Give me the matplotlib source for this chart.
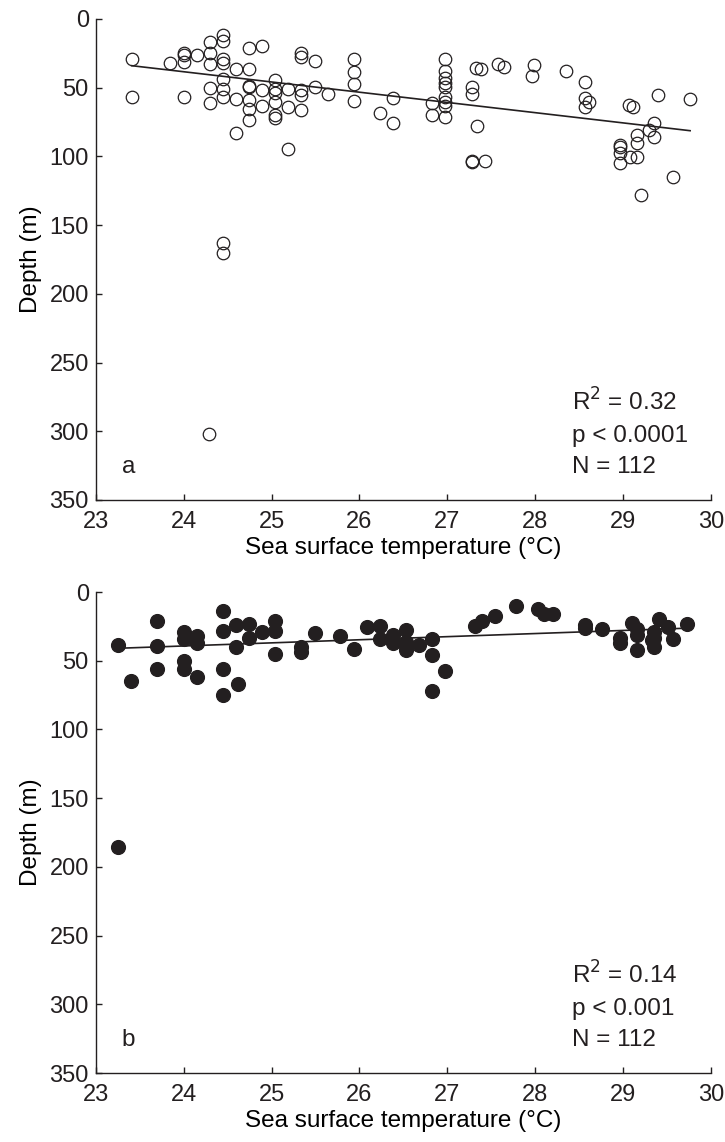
import matplotlib
matplotlib.use("Agg")
import matplotlib.pyplot as plt
import numpy as np

INK = '#231f20'

plt.rcParams.update({
    'font.family': ['Liberation Sans', 'DejaVu Sans'],
    'font.size': 17,
    'axes.linewidth': 1.0,
    'axes.edgecolor': INK,
    'text.color': INK,
    'xtick.color': INK,
    'ytick.color': INK,
    'xtick.direction': 'in',
    'ytick.direction': 'in',
})

# panel a: open circles
sst_a = [23.41, 23.41, 23.85, 24.0, 24.0, 24.0, 24.0, 24.15, 24.30, 24.30,
         24.30, 24.30, 24.30, 24.45, 24.45, 24.45, 24.45, 24.45, 24.45, 24.45,
         24.59, 24.59, 24.59, 24.74, 24.74, 24.74, 24.74, 24.74, 24.74, 24.74,
         24.89, 24.89, 24.89, 25.04, 25.04, 25.04, 25.04, 25.04, 25.04, 25.19,
         25.19, 25.19, 25.34, 25.34, 25.34, 25.34, 25.34, 25.49, 25.49, 25.64,
         25.94, 25.94, 25.94, 25.94, 26.23, 26.38, 26.38, 26.83, 26.83, 26.97,
         26.97, 26.97, 26.97, 26.97, 26.97, 26.97, 26.97, 26.97, 27.28, 27.28,
         27.28, 27.28, 27.43, 27.34, 27.32, 27.38, 27.57, 27.64, 27.99, 27.96,
         28.35, 28.56, 28.56, 28.61, 28.56, 29.07, 29.11, 29.39, 29.76, 29.35,
         29.29, 29.35, 29.16, 29.16, 28.96, 28.96, 28.96, 28.96, 29.08, 29.16,
         29.56, 29.20, 24.45, 24.45, 24.29]
depth_a = [29.3, 56.8, 31.8, 24.5, 26.5, 31.1, 56.8, 26.2, 16.7, 25.0,
           33.0, 50.5, 60.9, 11.9, 15.8, 29.3, 31.8, 43.9, 51.2, 56.8,
           36.2, 58.5, 83.2, 20.9, 36.6, 48.6, 49.7, 59.0, 65.3, 73.5,
           19.7, 51.7, 63.3, 44.4, 51.2, 53.6, 60.2, 69.9, 72.3, 51.2,
           63.8, 94.9, 25.0, 27.4, 51.7, 55.3, 66.2, 30.3, 49.7, 54.6,
           28.9, 38.4, 47.3, 59.9, 68.2, 57.7, 75.5, 60.9, 69.9, 28.9,
           37.6, 43.2, 46.4, 49.7, 56.5, 60.2, 63.3, 71.1, 49.7, 54.6,
           103.1, 103.9, 103.6, 77.9, 35.9, 36.6, 32.8, 34.7, 33.7, 41.5,
           37.9, 46.1, 57.3, 60.6, 63.8, 62.6, 63.8, 55.1, 58.5, 75.9,
           80.8, 86.1, 84.4, 90.0, 91.7, 93.0, 97.8, 104.6, 100.7, 100.2,
           114.8, 128.0, 163.0, 170.0, 301.7]
fit_a = (7.45, -140.4)   # slope, intercept
stats_a = ['R$^2$ = 0.32', 'p < 0.0001', 'N = 112']

# panel b: filled circles
sst_b = [23.25, 23.40, 23.70, 23.70, 23.70, 24.0, 24.0, 24.0, 24.0, 24.15,
         24.15, 24.15, 24.45, 24.45, 24.45, 24.45, 24.59, 24.59, 24.62, 24.74,
         24.74, 24.89, 25.04, 25.04, 25.04, 25.34, 25.34, 25.49, 25.78, 25.94,
         26.08, 26.23, 26.23, 26.38, 26.38, 26.53, 26.53, 26.53, 26.53, 26.68,
         26.83, 26.83, 26.83, 26.97, 27.31, 27.39, 27.54, 27.78, 28.03, 28.10,
         28.20, 28.56, 28.56, 28.76, 28.96, 28.96, 29.10, 29.16, 29.16, 29.16,
         29.35, 29.35, 29.33, 29.35, 29.41, 29.51, 29.56, 29.72, 23.25]
depth_b = [38.6, 64.5, 21.1, 39.3, 55.8, 28.9, 34.4, 50.0, 55.8, 32.0,
           36.9, 61.6, 13.8, 28.4, 56.0, 75.0, 24.0, 40.3, 67.0, 23.3,
           33.2, 28.9, 20.9, 28.1, 45.1, 39.8, 43.4, 29.6, 32.0, 41.7,
           25.7, 24.5, 34.4, 31.3, 36.9, 27.7, 36.1, 39.3, 42.2, 38.6,
           34.2, 46.1, 72.0, 57.5, 24.7, 21.1, 17.2, 10.2, 12.6, 16.3,
           16.0, 24.0, 26.4, 27.2, 33.7, 36.9, 22.3, 27.2, 31.3, 42.2,
           28.9, 33.7, 35.0, 40.3, 19.4, 25.7, 34.4, 23.5, 185.8]
fit_b = (-2.26, 93.5)
stats_b = ['R$^2$ = 0.14', 'p < 0.001', 'N = 112']

fig = plt.figure(figsize=(7.25, 11.42), dpi=100)
ax_a = fig.add_axes([0.132, 0.5622, 0.849, 0.4212])
ax_b = fig.add_axes([0.132, 0.0604, 0.849, 0.4212])

panels = [
    (ax_a, sst_a, depth_a, fit_a, stats_a, 'a', 'none', 9.0),
    (ax_b, sst_b, depth_b, fit_b, stats_b, 'b', INK, 10.0),
]

for ax, x, y, fit, stats, tag, face, ms in panels:
    x = np.array(x)
    ax.plot(x, y, 'o', ms=ms, mfc=face, mec=INK, mew=0.9, ls='none', zorder=3)
    xl = np.array([x.min(), x.max()])
    ax.plot(xl, fit[0] * xl + fit[1], color=INK, lw=1.2, zorder=2)

    ax.set_xlim(23, 30)
    ax.set_ylim(350, 0)
    ax.set_xticks(range(23, 31))
    ax.set_yticks(range(0, 351, 50))
    ax.tick_params(length=4.5, width=1.0, labelsize=17)
    ax.tick_params(axis='x', pad=8)
    ax.tick_params(axis='y', pad=5)
    for side in ['top', 'right']:
        ax.spines[side].set_visible(False)
    ax.set_xlabel('Sea surface temperature (°C)', fontsize=17.5, labelpad=3)
    ax.set_ylabel('Depth (m)', fontsize=17.5, labelpad=5)

    for k, line in enumerate(stats):
        ax.text(0.774, 0.186 - 0.065 * k, line, transform=ax.transAxes,
                ha='left', va='baseline', fontsize=17.5)
    ax.text(0.042, 0.056, tag, transform=ax.transAxes,
            ha='left', va='baseline', fontsize=17.5)

fig.savefig('out.png', dpi=100)
